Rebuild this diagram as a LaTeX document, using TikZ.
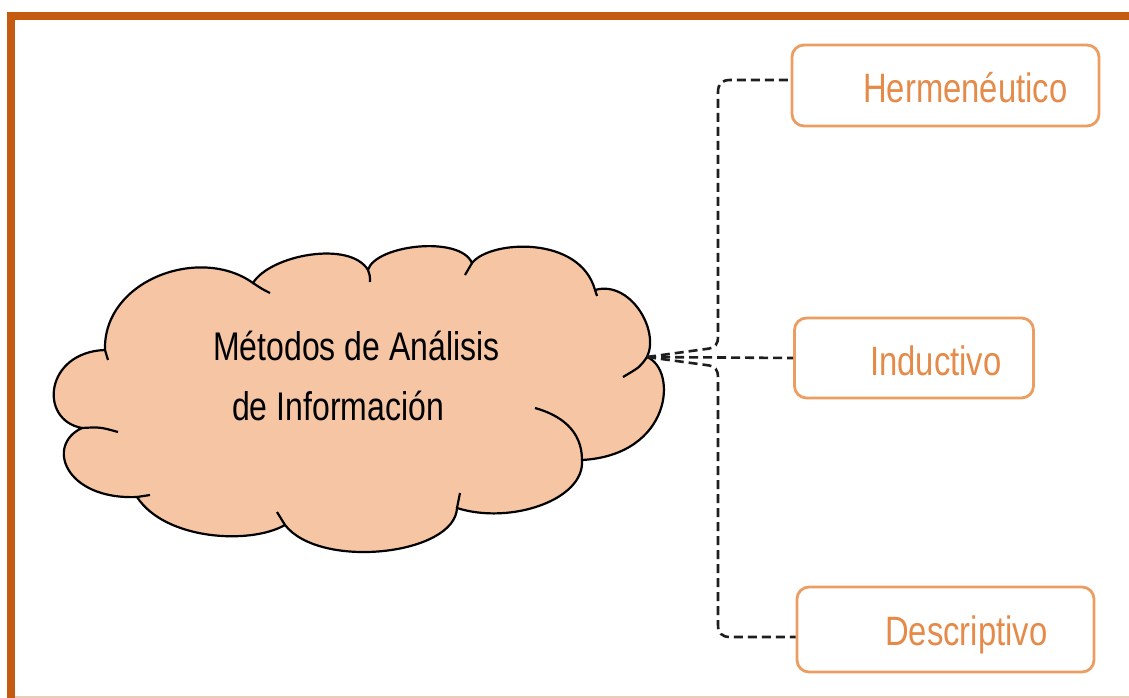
\documentclass[tikz,border=0pt]{standalone}
\usepackage{fontspec}
\newfontfamily\narrowfont{Liberation Sans}[FakeStretch=0.8]
\definecolor{framec}{RGB}{197,90,17}
\definecolor{cloudfill}{RGB}{246,198,164}
\definecolor{boxline}{RGB}{236,158,98}
\definecolor{boxtxt}{RGB}{229,138,72}
\definecolor{dashc}{RGB}{30,30,30}
\definecolor{bottomline}{RGB}{232,205,185}
\tikzset{
  cloudline/.style={draw=black, line width=2.2pt},
  itembox/.style={draw=boxline, line width=2.8pt, rounded corners=12pt, fill=white, inner sep=0pt},
  itemtext/.style={text=boxtxt, inner sep=0pt, anchor=base west, font=\narrowfont\fontsize{41pt}{48pt}\selectfont},
  cloudtext/.style={text=black, inner sep=0pt, anchor=base west, font=\narrowfont\fontsize{40pt}{48pt}\selectfont},
  conn/.style={draw=dashc, line width=2.6pt, dash pattern=on 9pt off 5pt},
}
\begin{document}
\begin{tikzpicture}[x=1pt,y=-1pt]
\useasboundingbox (0,0) rectangle (1129,698);
\fill[white] (0,0) rectangle (1129,698);
% frame
\fill[framec] (7,12) rectangle (1129,20);
\fill[framec] (7,12) rectangle (15,698);
\draw[bottomline, line width=1.2pt] (15,697) -- (1129,697);
% cloud
\filldraw[cloudline, fill=cloudfill] (105,350) .. controls (103,280) and (200,245) .. (253,283)
 .. controls (270,255) and (350,240) .. (368,270)
 .. controls (375,245) and (460,235) .. (472,263)
 .. controls (490,240) and (580,235) .. (595,290)
 .. controls (630,280) and (660,330) .. (647,357)
 .. controls (678,370) and (672,455) .. (582,460)
 .. controls (585,500) and (510,525) .. (457,508)
 .. controls (455,555) and (320,570) .. (285,525)
 .. controls (250,545) and (165,540) .. (137,497)
 .. controls (65,500) and (45,445) .. (82,428)
 .. controls (38,420) and (45,352) .. (105,350) -- cycle;
% creases
\draw[cloudline] (105,350) .. controls (106,355) .. (108,360);
\draw[cloudline] (253,283) .. controls (262,289) .. (270,293);
\draw[cloudline] (368,270) .. controls (370,276) .. (370,282);
\draw[cloudline] (472,263) .. controls (468,269) .. (465,275);
\draw[cloudline] (595,290) .. controls (596,293) .. (597,296);
\draw[cloudline] (647,357) .. controls (640,367) .. (623,377);
\draw[cloudline] (582,460) .. controls (582,430) and (560,415) .. (535,408);
\draw[cloudline] (457,508) .. controls (458,500) .. (460,493);
\draw[cloudline] (285,525) .. controls (281,519) .. (277,512);
\draw[cloudline] (137,497) .. controls (143,496) .. (150,495);
\draw[cloudline] (82,428) .. controls (100,427) .. (118,432);
\coordinate (cl) at (647,357);
\node[cloudtext] (m1) at (213,360) {Métodos de Análisis};
\node[cloudtext] (m2) at (232,420) {de Información};
% boxes
\node[itembox, minimum width=307pt, minimum height=81pt] (h) at (945.5,85.5) {};
\node[itembox, minimum width=239pt, minimum height=80pt] (i) at (914,358) {};
\node[itembox, minimum width=297pt, minimum height=85pt] (d) at (945.5,629.5) {};
\node[itemtext] (ht) at (863,103) {Hermenéutico};
\node[itemtext] (it) at (870,375) {Inductivo};
\node[itemtext] (dt) at (885,645) {Descriptivo};
% connectors
\draw[conn] (cl) -- (i.west);
\draw[conn] (cl) -- (706,349) .. controls (716,348) and (718,344) .. (718,336) -- (718,92)
  .. controls (718,84) and (722,80) .. (730,80) -- ([yshift=5.5pt]h.west);
\draw[conn] (cl) -- (706,365) .. controls (716,366) and (718,370) .. (718,378) -- (718,625)
  .. controls (718,633) and (722,637) .. (730,637) -- ([yshift=-7.5pt]d.west);
\end{tikzpicture}
\end{document}
